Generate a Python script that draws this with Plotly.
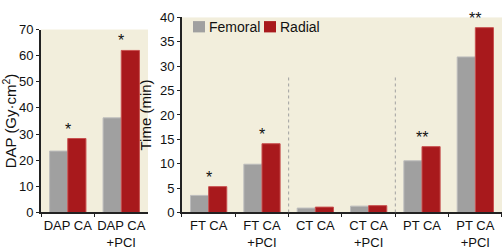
import plotly.graph_objects as go

dap_cats = ["DAP CA", "DAP CA<br>+PCI"]
dap_femoral = [23.5, 36.2]
dap_radial = [28.3, 62.0]
dap_sig = ["*", "*"]

time_cats = ["FT CA", "FT CA<br>+PCI", "CT CA", "CT CA<br>+PCI", "PT CA", "PT CA<br>+PCI"]
time_femoral = [3.5, 9.9, 0.9, 1.3, 10.6, 31.9]
time_radial = [5.3, 14.1, 1.1, 1.4, 13.5, 37.9]
time_sig = ["*", "*", "", "", "**", "**"]

legend_names = ["Femoral", "Radial"]
dividers = [1.5, 3.5]

FEM = "#a0a0a0"
RAD = "#a8191c"
BG = "#f2eedc"
TICKFONT = dict(family="Liberation Sans, Arial", size=13, color="#111")
TITLEFONT = dict(family="Liberation Sans, Arial", size=15, color="#111")

fig = go.Figure()
fig.add_trace(go.Bar(x=dap_cats, y=dap_femoral, name=legend_names[0], marker=dict(color=FEM, line=dict(color="#bdbdbd", width=1)),
                     xaxis="x", yaxis="y", showlegend=False))
fig.add_trace(go.Bar(x=dap_cats, y=dap_radial, name=legend_names[1], marker=dict(color=RAD, line=dict(color="#c8504f", width=1)),
                     xaxis="x", yaxis="y", showlegend=False))
fig.add_trace(go.Bar(x=time_cats, y=time_femoral, name=legend_names[0], marker=dict(color=FEM, line=dict(color="#bdbdbd", width=1)),
                     xaxis="x2", yaxis="y2", showlegend=False))
fig.add_trace(go.Bar(x=time_cats, y=time_radial, name=legend_names[1], marker=dict(color=RAD, line=dict(color="#c8504f", width=1)),
                     xaxis="x2", yaxis="y2", showlegend=False))

annotations = []
for c, f, r, s in zip(dap_cats, dap_femoral, dap_radial, dap_sig):
    if s:
        annotations.append(dict(x=c, y=max(f, r), xref="x", yref="y", text=s, showarrow=False,
                                yanchor="bottom", yshift=-1, font=dict(size=16, color="#111", family="Liberation Sans")))
for c, f, r, s in zip(time_cats, time_femoral, time_radial, time_sig):
    if s:
        annotations.append(dict(x=c, y=max(f, r), xref="x2", yref="y2", text=s, showarrow=False,
                                yanchor="bottom", yshift=-1, font=dict(size=16, color="#111", family="Liberation Sans")))

shapes = []
for d in dividers:
    shapes.append(dict(type="line", xref="x2", yref="y2", x0=d, x1=d, y0=0, y1=27.8,
                       line=dict(color="#a0a0a0", width=1, dash="dot")))

# manual legend (paper coordinates)
W, H = 502, 252
legend_items = [(193, legend_names[0], FEM), (264, legend_names[1], RAD)]
for px, name, col in legend_items:
    shapes.append(dict(type="rect", xref="paper", yref="paper",
                       x0=px / W, x1=(px + 12) / W, y0=1 - 27 / H, y1=1 - 15 / H,
                       fillcolor=col, line=dict(width=0)))
    annotations.append(dict(x=(px + 14) / W, y=1 - 21 / H, xref="paper", yref="paper", text=name,
                            showarrow=False, xanchor="left", yanchor="middle",
                            font=dict(family="Liberation Sans, Arial", size=14, color="#111")))

axis_common = dict(showline=True, linecolor="#222", linewidth=2, ticks="outside", ticklen=3,
                   tickcolor="#222", tickfont=TICKFONT, showgrid=False, zeroline=False)

fig.update_layout(
    width=W, height=H,
    margin=dict(l=0, r=0, t=0, b=0),
    paper_bgcolor="white",
    showlegend=False,
    barmode="group", bargap=0.32, bargroupgap=0,
    xaxis=dict(domain=[0.0817, 0.2948], anchor="y", tickson="boundaries", tickangle=0, **axis_common),
    yaxis=dict(domain=[0.133, 0.905], anchor="x", range=[0, 70], dtick=10,
               title=dict(text="DAP (Gy·cm<sup>2</sup>)", font=TITLEFONT, standoff=5), **axis_common),
    xaxis2=dict(domain=[0.3625, 1.0], anchor="y2", tickson="boundaries", tickangle=0, **axis_common),
    yaxis2=dict(domain=[0.133, 0.956], anchor="x2", range=[0, 40], dtick=5,
                title=dict(text="Time (min)", font=TITLEFONT, standoff=5), **axis_common),
    annotations=annotations,
    shapes=shapes,
    plot_bgcolor=BG,
)

fig.write_html("out.html")
